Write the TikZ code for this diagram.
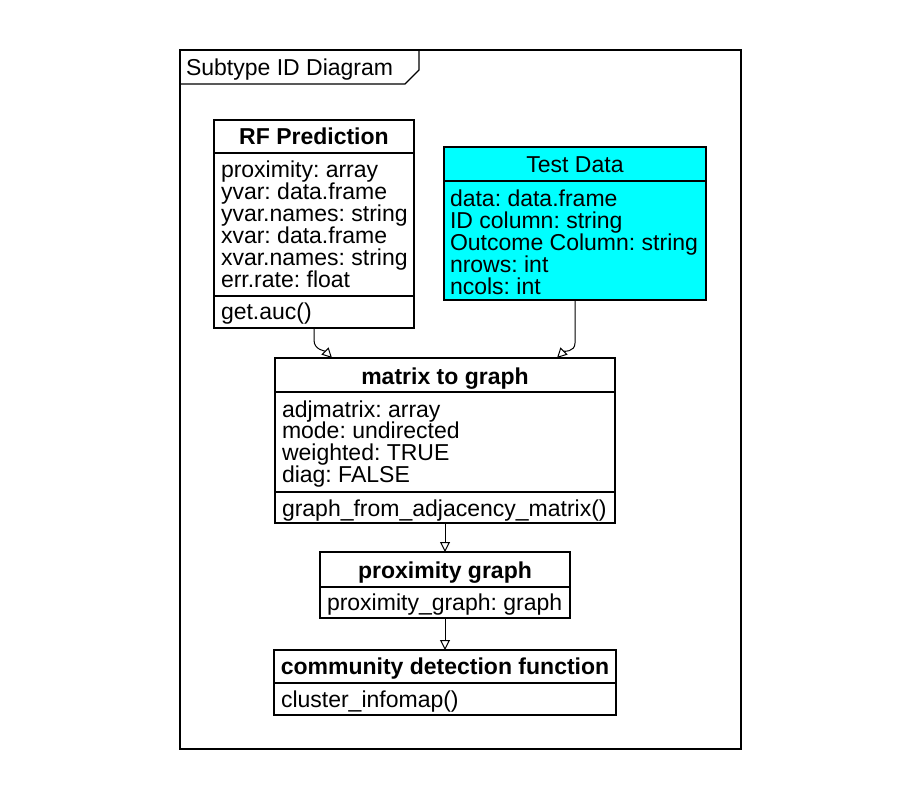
\documentclass[tikz,border=0pt]{standalone}
\usepackage{fontspec}
\setmainfont{Liberation Sans}
\usetikzlibrary{arrows.meta,shadows}
\definecolor{aqua}{RGB}{0,255,255}
\frenchspacing
\begin{document}
\begin{tikzpicture}[x=1pt,y=-1pt,
  every node/.style={inner sep=0pt,outer sep=0pt,font=\fontsize{23}{22}\selectfont\frenchspacing},
  umlbox/.style={draw=black,line width=1.3pt,fill=white,anchor=north west,
    drop shadow={shadow xshift=1.2pt,shadow yshift=-1.2pt,opacity=1,fill=black}},
  ttl/.style={anchor=base,font=\fontsize{23}{22}\selectfont\bfseries},
  txt/.style={anchor=base west},
  sep/.style={line width=1.2pt},
  arr/.style={line width=1pt,-{Triangle[open,length=10pt,width=10pt]}}]
\useasboundingbox (0,0) rectangle (918,797);
\fill[white] (0,0) rectangle (918,797);
% frame
\node[umlbox,minimum width=561pt,minimum height=699pt] (frame) at (180,50) {};
\draw[line width=1.2pt] (180,84) -- (405,84) -- (419,70) -- (419,50);
\node[txt] (frametitle) at (186,76) {Subtype ID Diagram};
% RF Prediction
\node[umlbox,minimum width=200pt,minimum height=208pt] (rf) at (214,120) {};
\node[ttl] (rft) at (314,145) {RF Prediction};
\draw[sep] (214,153) -- (414,153);
\node[txt] (rf1) at (221,177) {proximity: array};
\node[txt] (rf2) at (221,199) {yvar: data.frame};
\node[txt] (rf3) at (221,221) {yvar.names: string};
\node[txt] (rf4) at (221,243) {xvar: data.frame};
\node[txt] (rf5) at (221,265) {xvar.names: string};
\node[txt] (rf6) at (221,287) {err.rate: float};
\draw[sep] (214,296) -- (414,296);
\node[txt] (rf7) at (221,319) {get.auc()};
% Test Data
\node[umlbox,fill=aqua,minimum width=262pt,minimum height=153pt] (td) at (444,147) {};
\node[anchor=base] (tdt) at (575,172) {Test Data};
\draw[sep] (444,181) -- (706,181);
\node[txt] (td1) at (450,206) {data: data.frame};
\node[txt] (td2) at (450,228) {ID column: string};
\node[txt] (td3) at (450,250) {Outcome Column: string};
\node[txt] (td4) at (450,272) {nrows: int};
\node[txt] (td5) at (450,294) {ncols: int};
% matrix to graph
\node[umlbox,minimum width=340pt,minimum height=165pt] (mtg) at (275,358) {};
\node[ttl] (mtgt) at (445,384) {matrix to graph};
\draw[sep] (275,392) -- (615,392);
\node[txt] (m1) at (282,417) {adjmatrix: array};
\node[txt] (m2) at (282,438) {mode: undirected};
\node[txt] (m3) at (282,460) {weighted: TRUE};
\node[txt] (m4) at (282,482) {diag: FALSE};
\draw[sep] (275,492) -- (615,492);
\node[txt] (m5) at (282,516) {graph\_from\_adjacency\_matrix()};
% proximity graph
\node[umlbox,minimum width=250pt,minimum height=66pt] (pg) at (320,552) {};
\node[ttl] (pgt) at (445,578) {proximity graph};
\draw[sep] (320,587) -- (570,587);
\node[txt] (pg1) at (327,610) {proximity\_graph: graph};
% community detection function
\node[umlbox,minimum width=342pt,minimum height=65pt] (cd) at (274,650) {};
\node[ttl] (cdt) at (445,674) {community detection function};
\draw[sep] (274,683) -- (616,683);
\node[txt] (cd1) at (281,707) {cluster\_infomap()};
% connectors
\coordinate (e1) at (332,358);
\coordinate (e2) at (557,358);
\draw[arr] (rf.south) -- (314,340) to[out=-90,in=135] (e1);
\draw[arr] (td.south) -- (575,343) to[out=-90,in=45] (e2);
\draw[arr] (mtg.south -| 445,0) -- (pg.north -| 445,0);
\draw[arr] (pg.south -| 445,0) -- (cd.north -| 445,0);
\end{tikzpicture}
\end{document}
